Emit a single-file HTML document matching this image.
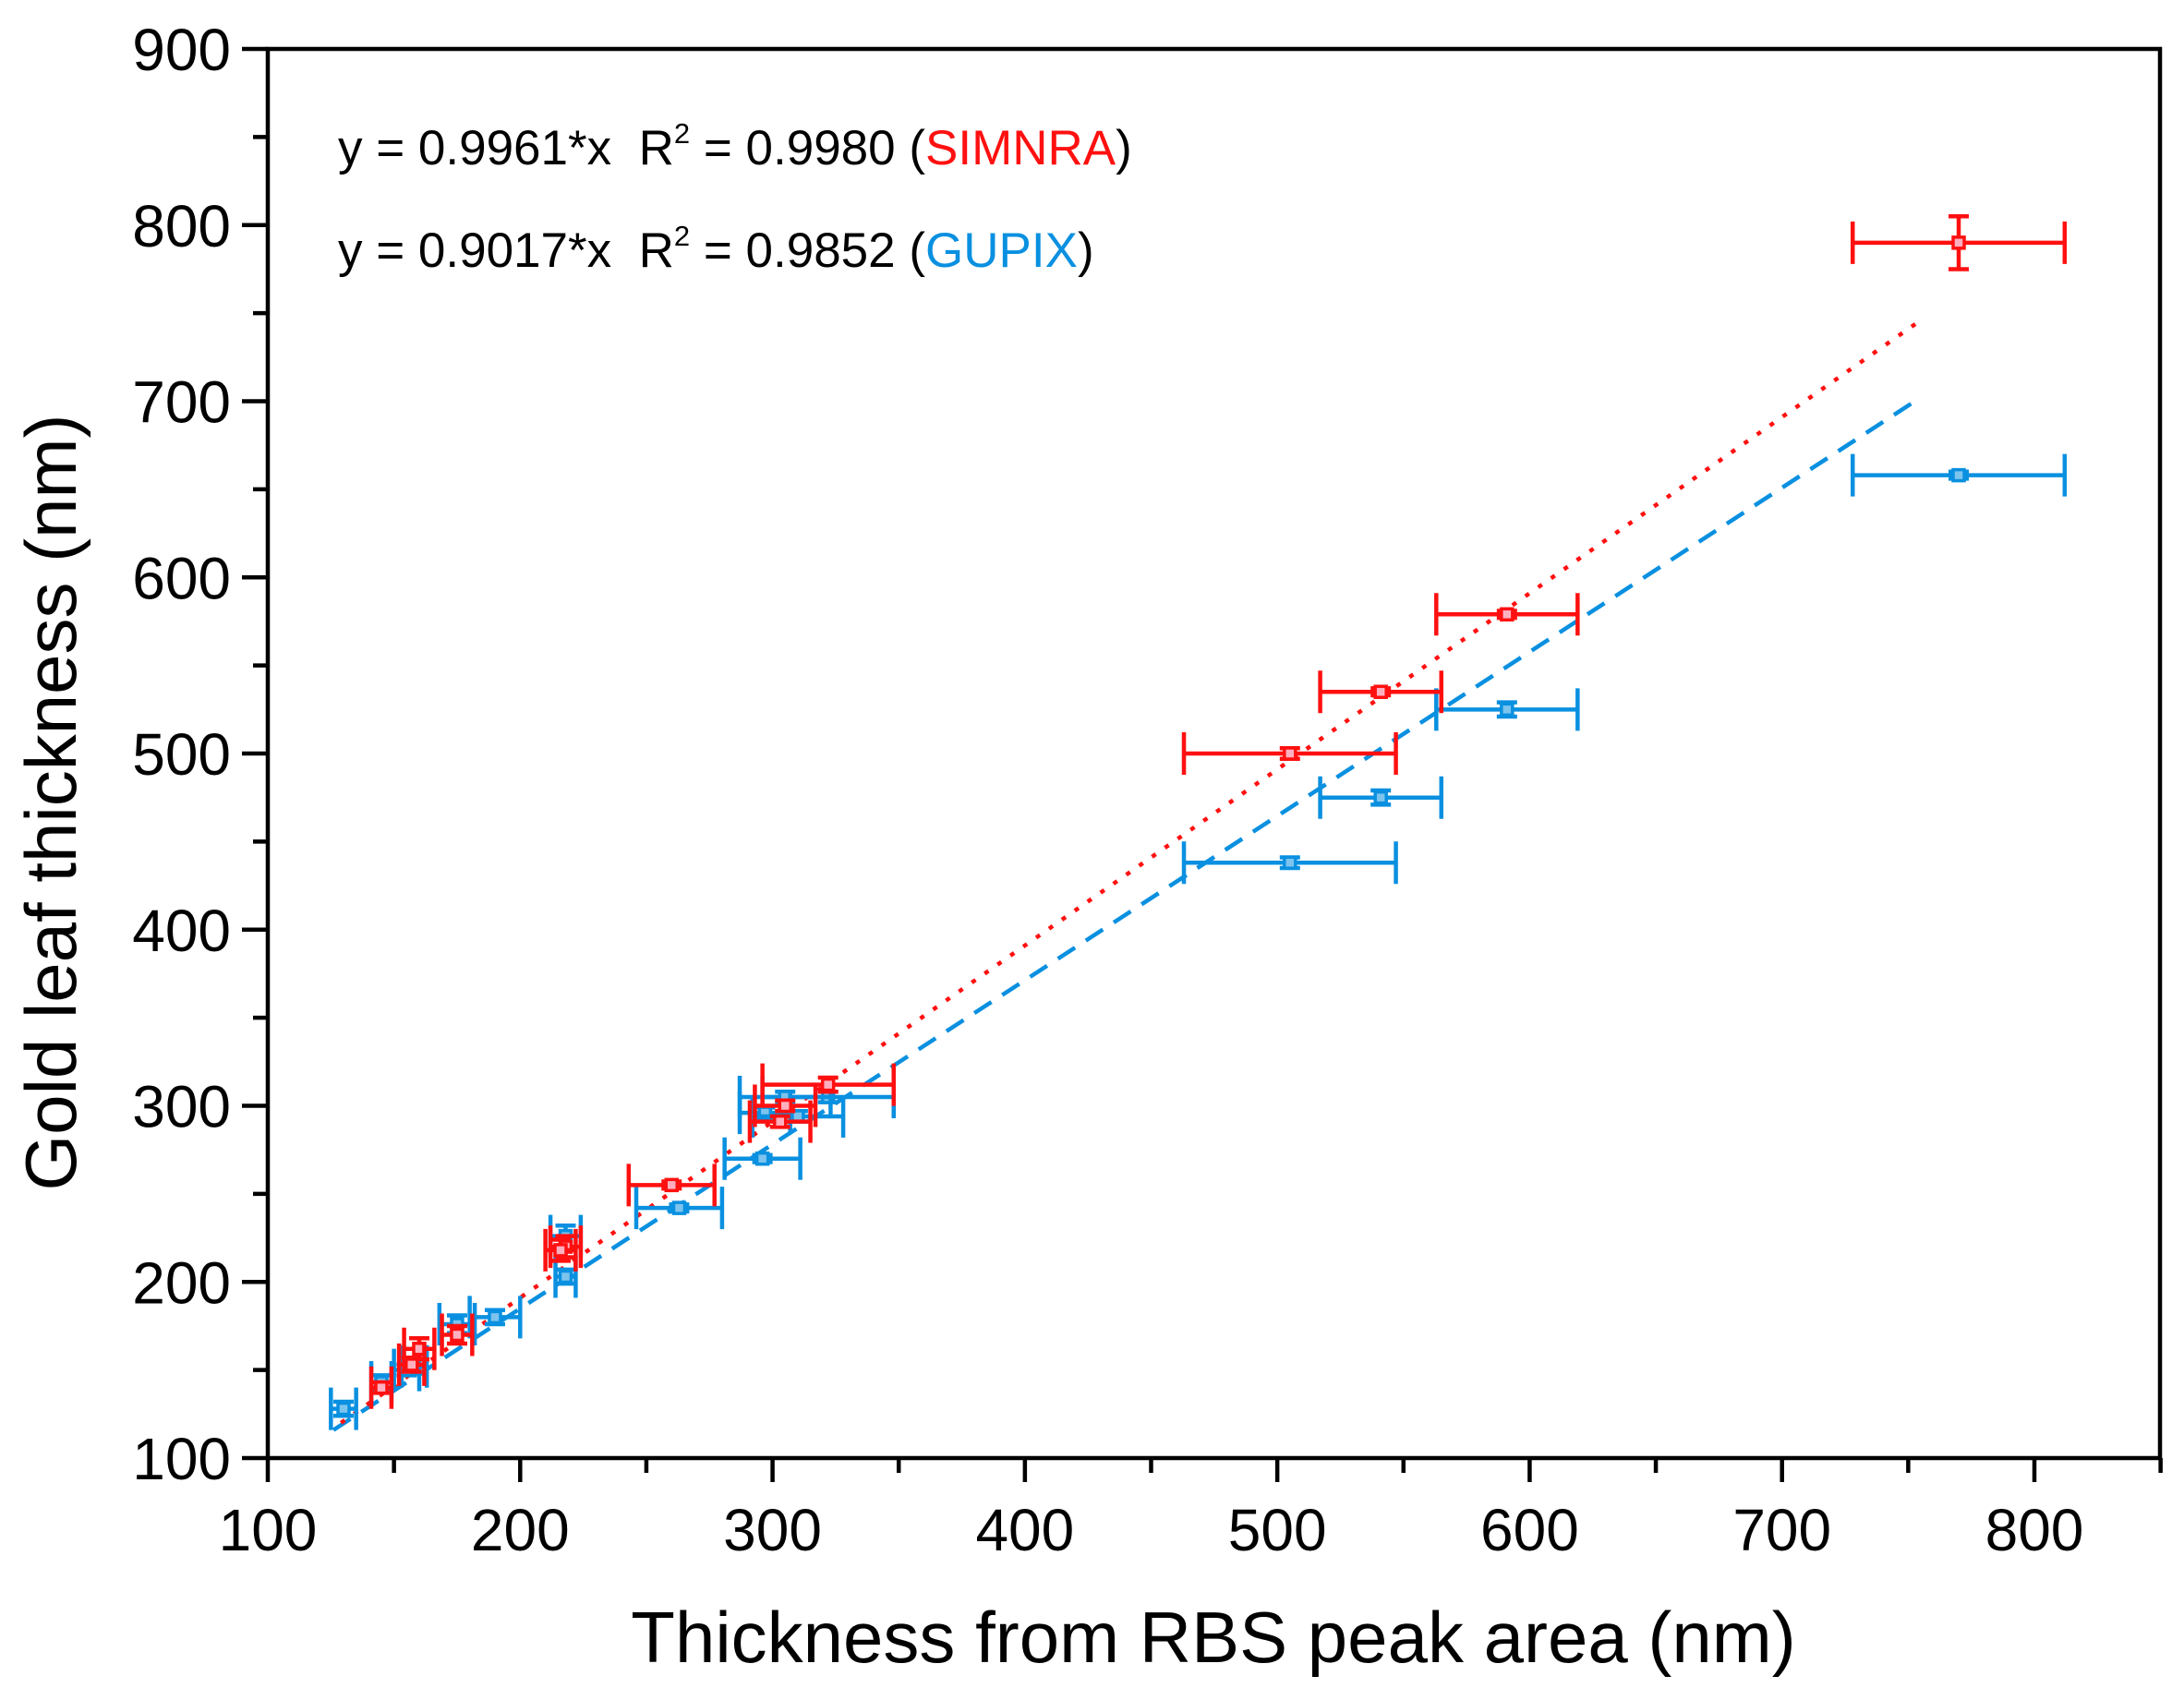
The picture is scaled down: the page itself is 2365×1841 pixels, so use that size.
<!DOCTYPE html>
<html><head><meta charset="utf-8"><style>
html,body{margin:0;padding:0;background:#fff;}
svg{display:block;font-family:"Liberation Sans",Arial,sans-serif;}
</style></head><body>
<svg id="chart" width="2365" height="1841" viewBox="0 0 2365 1841" xmlns="http://www.w3.org/2000/svg">
<g id="axes"></g>
<g id="marks"></g>
<text x="366" y="178" font-size="53" fill="#000">y = 0.9961*x&#160;&#160;R<tspan font-size="31" dy="-23">2</tspan><tspan dy="23"> = 0.9980 (</tspan><tspan fill="#ff1010">SIMNRA</tspan>)</text>
<text x="366" y="289" font-size="53" fill="#000">y = 0.9017*x&#160;&#160;R<tspan font-size="31" dy="-23">2</tspan><tspan dy="23"> = 0.9852 (</tspan><tspan fill="#0a90e0">GUPIX</tspan>)</text>
<text x="1314" y="1800" font-size="78" text-anchor="middle" fill="#000">Thickness from RBS peak area (nm)</text>
<text transform="translate(82,869) rotate(-90)" font-size="78" text-anchor="middle" fill="#000">Gold leaf thickness (nm)</text>
</svg>
<script>
const xTicks = [100,200,300,400,500,600,700,800];
const yTicks = [100,200,300,400,500,600,700,800,900];
// SIMNRA series
const simX   = [770,591,541,505,322,305,303,260,218,216,175,160,157,145];
const simY   = [790,579,535,500,312,300,291,255,220,218,170,162,153,140];
const simXe  = [42,28,24,42,26,12,12,17,6,6,6,6,5,4];
const simYe  = [15,2,2,3,4,3,3,2,6,6,5,6,4,3];
// GUPIX series
const gupX   = [770,591,541,505,322,305,297,310,296,263,218,218,190,175,158,155,145,130];
const gupY   = [658,525,475,438,305,305,296,294,270,242,226,203,180,176,152,150,143,128];
const gupXe  = [42,28,24,42,26,18,10,18,15,17,6,4,10,7,5,5,4,5];
const gupYe  = [2,4,4,3,3,3,3,3,2,2,6,4,4,5,4,3,4,4];
// fit lines [x0,x1] and slope/intercept
const simFitX = [129,753]; const simFit = [1.0,-9];
const gupFitX = [126,755]; const gupFit = [0.932,-1.5];

const L=290,R=2339,T=53,B=1579;
const xs=v=>L+(v-100)*(2203-290)/700;
const ys=v=>B-(v-100)*(B-T)/800;
const NS="http://www.w3.org/2000/svg";
function mk(p,tag,at){const e=document.createElementNS(NS,tag);for(const k in at)e.setAttribute(k,at[k]);p.appendChild(e);return e;}
const ax=document.getElementById('axes'), mg=document.getElementById('marks');
const frame=mk(ax,'rect',{x:L,y:T,width:R-L,height:B-T,fill:'none',stroke:'#000','stroke-width':4.5});


for(let v=100;v<=850;v+=50){
  const major=v%100===0;
  const t=mk(ax,'line',{x1:xs(v),x2:xs(v),y1:B,y2:B+(major?26:16),stroke:'#000','stroke-width':4.5});
  
  
}
xTicks.forEach(v=>{const t=mk(ax,'text',{x:xs(v),y:B+100,'font-size':64,'text-anchor':'middle'});t.textContent=v;
  
  });
for(let v=100;v<=900;v+=50){
  const major=v%100===0;
  const t=mk(ax,'line',{x1:L,x2:L-(major?28:16),y1:ys(v),y2:ys(v),stroke:'#000','stroke-width':4.5});
  
  
}
yTicks.forEach(v=>{const t=mk(ax,'text',{x:L-40,y:ys(v)+23,'font-size':64,'text-anchor':'end'});t.textContent=v;
  
  });

function fit(fx,f,col,dash,name){
  const l=mk(mg,'line',{x1:xs(fx[0]),y1:ys(f[0]*fx[0]+f[1]),x2:xs(fx[1]),y2:ys(f[0]*fx[1]+f[1]),stroke:col,'stroke-width':4.5,'stroke-dasharray':dash});
  
  
}
fit(gupFitX,gupFit,'#0a90e0','22 14','fit-line-gupix');
fit(simFitX,simFit,'#ff1010','5 12','fit-line-simnra');

function series(X,Y,XE,YE,col,fill,name){
  X.forEach((x,i)=>{
    const g=mk(mg,'g',{stroke:col,'stroke-width':4.5,fill:'none'});
    
    
    const cx=xs(x),cy=ys(Y[i]),x0=xs(x-XE[i]),x1=xs(x+XE[i]),y0=ys(Y[i]-YE[i]),y1=ys(Y[i]+YE[i]);
    mk(g,'line',{x1:x0,x2:x1,y1:cy,y2:cy});
    mk(g,'line',{x1:x0,x2:x0,y1:cy-23,y2:cy+23});
    mk(g,'line',{x1:x1,x2:x1,y1:cy-23,y2:cy+23});
    mk(g,'line',{x1:cx,x2:cx,y1:y0,y2:y1});
    mk(g,'line',{x1:cx-11,x2:cx+11,y1:y0,y2:y0});
    mk(g,'line',{x1:cx-11,x2:cx+11,y1:y1,y2:y1});
    mk(g,'rect',{x:cx-6,y:cy-6,width:12,height:12,fill:fill,'stroke-width':3.5});
  });
}
series(gupX,gupY,gupXe,gupYe,'#0a90e0','#7cc4ee','point-gupix');
series(simX,simY,simXe,simYe,'#ff1010','#ffb0c0','point-simnra');
</script>
</body></html>
